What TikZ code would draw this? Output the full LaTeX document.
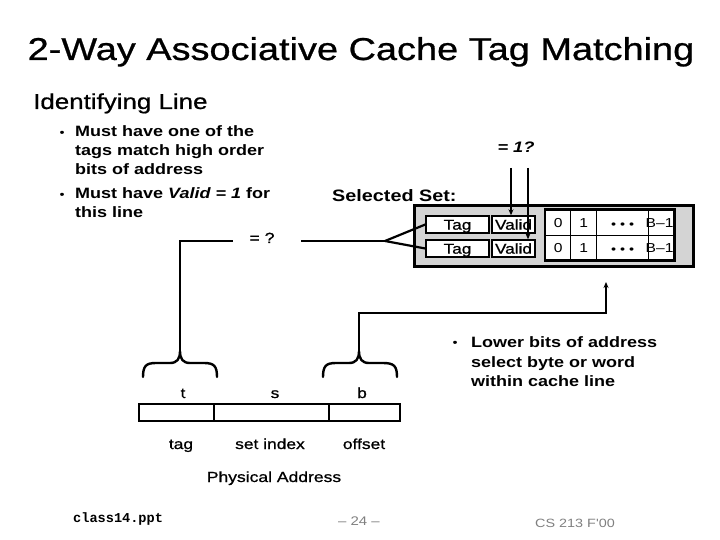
\documentclass[tikz,border=0pt]{standalone}
\usepackage{fontspec}
\setmainfont[FakeStretch=1.2, UprightFeatures={FakeBold=0.8}]{Liberation Sans}
\newfontfamily\thinf[FakeStretch=1.2]{Liberation Sans}
\newfontfamily\monof{Liberation Mono}
\usetikzlibrary{arrows.meta}
\definecolor{setgray}{HTML}{D4D4D4}
\definecolor{footgray}{HTML}{808080}
\newcommand{\fsz}[1]{\fontsize{#1}{#1}\selectfont}
\tikzset{
  txt/.style={inner sep=0pt, anchor=base west},
  ctxt/.style={inner sep=0pt, anchor=base},
  conn/.style={line width=2.4pt},
  arr/.style={line width=1.8pt, -{Stealth[length=6pt,width=5pt]}},
  cell/.style={draw, line width=1.4pt, fill=white, inner sep=0pt, minimum height=17pt,
    font=\fsz{14.3}, text height=10.3pt, text depth=0pt},
  dcell/.style={draw, line width=1.2pt, fill=white, inner sep=0pt, minimum height=25pt, anchor=north west,
    font=\thinf\fsz{13}, text height=9.3pt, text depth=0pt},
  field/.style={draw, line width=1.6pt, inner sep=0pt, minimum height=17pt, anchor=west},
  bracepath/.style={line width=2.4pt, line cap=round},
}
\begin{document}
\begin{tikzpicture}[x=1pt,y=-1pt]
\useasboundingbox (0,0) rectangle (720,540);
% title
\node[ctxt] (title) at (361,60) {\fsz{31.6}2-Way Associative Cache Tag Matching};
\node[txt] (ident) at (33,109) {\fsz{21.6}Identifying Line};
% bullets left
\node[ctxt] (bul1) at (62,136) {\fsz{11}•};
\node[txt] (l1) at (75,137) {\fsz{15}\bfseries Must have one of the};
\node[txt] (l2) at (75,156) {\fsz{15}\bfseries tags match high order};
\node[txt] (l3) at (75,175) {\fsz{15}\bfseries bits of address};
\node[ctxt] (bul2) at (62,198) {\fsz{11}•};
\node[txt] (l4) at (75,199) {\fsz{15}\bfseries Must have \textit{Valid = 1} for};
\node[txt] (l5) at (75,218) {\fsz{15}\bfseries this line};
% = 1?
\node[ctxt] (v1) at (516,153) {\fsz{15.2}\bfseries\itshape = 1?};
\node[txt] (sel) at (332,202) {\fsz{16.5}\bfseries Selected Set:};
% selected set box
\node[draw, line width=2.6pt, fill=setgray, inner sep=0pt, minimum width=279pt, minimum height=61pt, anchor=north west] (setbox) at (413,204) {};
\node[cell, minimum width=63pt] (tagA) at (457.5,224.5) {Tag};
\node[cell, minimum width=43pt] (validA) at (513.5,224.5) {Valid};
\node[cell, minimum width=63pt] (tagB) at (457.5,248.5) {Tag};
\node[cell, minimum width=43pt] (validB) at (513.5,248.5) {Valid};
% data block
\node[dcell, minimum width=25pt] (d00) at (545,209.5) {0};
\node[dcell, minimum width=26pt] (d01) at (570,209.5) {1};
\node[dcell, minimum width=52pt] (d02) at (596,209.5) {\raisebox{-1pt}{\fsz{12}•\hspace{4pt}•\hspace{4pt}•}};
\node[dcell, minimum width=25pt] (d03) at (648,209.5) {\hspace{-3pt}B–1};
\node[dcell, minimum width=25pt] (d10) at (545,234.5) {0};
\node[dcell, minimum width=26pt] (d11) at (570,234.5) {1};
\node[dcell, minimum width=52pt] (d12) at (596,234.5) {\raisebox{-1pt}{\fsz{12}•\hspace{4pt}•\hspace{4pt}•}};
\node[dcell, minimum width=25pt] (d13) at (648,234.5) {\hspace{-3pt}B–1};
\draw[line width=2.6pt] (d00.north west) rectangle (d13.south east);
% = 1? arrows
\coordinate (q1) at (511,168);
\coordinate (q2) at (528,168);
\draw[arr] (q1) -- (q1 |- validA.north);
\draw[arr] (q2) -- (q2 |- validB.north);
% address
\node[field, minimum width=75pt] (ft) at (138,412.5) {};
\node[field, minimum width=115pt] (fs) at (213,412.5) {};
\node[field, minimum width=71pt] (fb) at (328,412.5) {};
\node[ctxt] (lt) at (183,398) {\fsz{14.5}t};
\node[ctxt] (ls) at (275,398) {\fsz{14.5}s};
\node[ctxt] (lb) at (362,398) {\fsz{14.5}b};
\node[ctxt] (ntag) at (181,449) {\fsz{14.5}tag};
\node[ctxt] (nset) at (270,449) {\fsz{14.5}set index};
\node[ctxt] (noff) at (364,449) {\fsz{14.5}offset};
\node[ctxt] (phys) at (274,482) {\fsz{14.6}Physical Address};
% braces
\coordinate (tt) at (180,351);
\coordinate (bt) at (359,351);
\draw[bracepath] (143,377) .. controls (143,366) and (146,363) .. (156,363) -- (170,363) .. controls (177,363) and (180,359) .. (tt)
  .. controls (180,359) and (183,363) .. (190,363) -- (204,363) .. controls (214,363) and (217,366) .. (217,377);
\draw[bracepath] (323,377) .. controls (323,366) and (326,363) .. (336,363) -- (349,363) .. controls (356,363) and (359,359) .. (bt)
  .. controls (359,359) and (362,363) .. (369,363) -- (383,363) .. controls (394,363) and (397,366) .. (397,377);
% =? comparator
\node[inner sep=0pt, minimum width=68pt, minimum height=10pt] (eq) at (267,241) {};
\node[ctxt] (eqt) at (262,243) {\fsz{14.7}= ?};
\coordinate (fork) at (385,241);
\draw[conn] (tt) |- (eq.west);
\draw[conn] (eq.east) -- (fork);
\draw[line width=2.2pt] (fork) -- (tagA.west);
\draw[line width=2.2pt] (fork) -- (tagB.west);
% offset path
\coordinate (offend) at (606,282);
\draw[conn] (bt) |- (606,313) -- (606,292);
\draw[arr] (606,295) -- (offend);
% bullet right
\node[ctxt] (bul3) at (455,346) {\fsz{11}•};
\node[txt] (r1) at (471,347) {\fsz{15}\bfseries Lower bits of address};
\node[txt] (r2) at (471,367) {\fsz{15}\bfseries select byte or word};
\node[txt] (r3) at (471,386) {\fsz{15}\bfseries within cache line};
% footer
\node[txt] (f1) at (73,522) {\fontsize{13.6}{13.6}\selectfont\monof\bfseries class14.ppt};
\node[ctxt, text=footgray] (f2) at (359,525) {\thinf\fsz{12.5}– 24 –};
\node[ctxt, text=footgray] (f3) at (575,527) {\thinf\fsz{12}CS 213 F'00};
\end{tikzpicture}
\end{document}
